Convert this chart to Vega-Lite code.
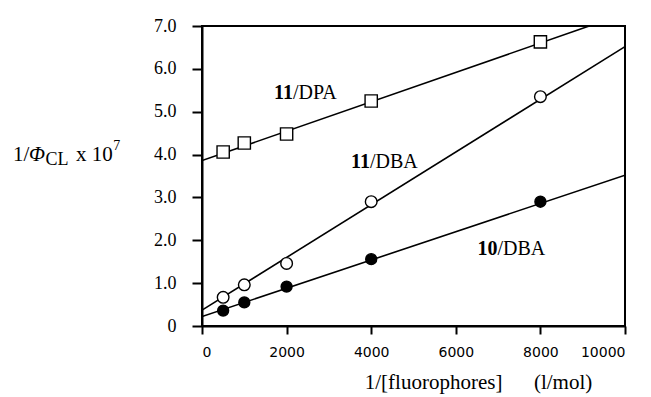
{
  "$schema": "https://vega.github.io/schema/vega-lite/v6.json",
  "autosize": "none",
  "padding": {"left": 202, "top": 26, "right": 26, "bottom": 71},
  "width": 423,
  "height": 300,
  "background": "white",
  "config": {
    "view": {"stroke": "black", "strokeWidth": 2},
    "axis": {"grid": false, "domainColor": "black", "domainWidth": 2, "tickColor": "black", "tickWidth": 2, "labelColor": "black"}
  },
  "datasets": {
    "points": [
      {"series": "11/DPA", "x": 500, "y": 4.06},
      {"series": "11/DPA", "x": 1000, "y": 4.27},
      {"series": "11/DPA", "x": 2000, "y": 4.48},
      {"series": "11/DPA", "x": 4000, "y": 5.25},
      {"series": "11/DPA", "x": 8000, "y": 6.63},
      {"series": "11/DBA", "x": 500, "y": 0.67},
      {"series": "11/DBA", "x": 1000, "y": 0.96},
      {"series": "11/DBA", "x": 2000, "y": 1.46},
      {"series": "11/DBA", "x": 4000, "y": 2.9},
      {"series": "11/DBA", "x": 8000, "y": 5.35},
      {"series": "10/DBA", "x": 500, "y": 0.36},
      {"series": "10/DBA", "x": 1000, "y": 0.55},
      {"series": "10/DBA", "x": 2000, "y": 0.92},
      {"series": "10/DBA", "x": 4000, "y": 1.56},
      {"series": "10/DBA", "x": 8000, "y": 2.9}
    ],
    "fits": [
      {"series": "11/DPA", "x": 0, "y": 3.86},
      {"series": "11/DPA", "x": 10000, "y": 7.29},
      {"series": "11/DBA", "x": 0, "y": 0.37},
      {"series": "11/DBA", "x": 10000, "y": 6.52},
      {"series": "10/DBA", "x": 0, "y": 0.22},
      {"series": "10/DBA", "x": 10000, "y": 3.52}
    ],
    "boldlabels": [
      {"t": "11", "x": 2151, "y": 5.29},
      {"t": "11", "x": 3972, "y": 3.68},
      {"t": "10", "x": 6983, "y": 1.66}
    ],
    "plainlabels": [
      {"t": "/DPA", "x": 2151, "y": 5.29},
      {"t": "/DBA", "x": 3972, "y": 3.68},
      {"t": "/DBA", "x": 6983, "y": 1.66}
    ],
    "ytitle": [
      {"t": "1/", "x": -4468, "y": 3.85},
      {"t": "x 10", "x": -2980, "y": 3.85}
    ],
    "italic": [{"t": "Φ", "x": -4090, "y": 3.85}],
    "sub": [{"t": "CL", "x": -3700, "y": 3.76}],
    "sup": [{"t": "7", "x": -2100, "y": 4.1}]
  },
  "layer": [
    {
      "data": {"name": "fits"},
      "mark": {"type": "line", "color": "black", "strokeWidth": 1.6, "clip": true},
      "encoding": {
        "x": {"field": "x", "type": "quantitative", "scale": {"domain": [0, 10000], "nice": false},
          "axis": {"values": [0, 2000, 4000, 6000, 8000, 10000], "format": "d", "labelFont": "DejaVu Sans", "labelFontSize": 14, "labelPadding": 11, "tickSize": 8,
            "title": "1/[fluorophores]\u00a0\u00a0\u00a0\u00a0\u00a0\u00a0(l/mol)", "titleFont": "Liberation Serif", "titleFontSize": 21, "titleFontWeight": "normal", "titleColor": "black",
            "titleX": 276, "titleY": 62, "titleBaseline": "alphabetic", "titleAlign": "center"}},
        "y": {"field": "y", "type": "quantitative", "scale": {"domain": [0, 7], "nice": false},
          "axis": {"values": [0, 1, 2, 3, 4, 5, 6, 7], "labelExpr": "datum.value == 0 ? '0' : format(datum.value, '.1f')", "labelFont": "Liberation Serif", "labelFontSize": 18, "labelPadding": 16, "tickSize": 10, "title": null}},
        "detail": {"field": "series"}
      }
    },
    {
      "data": {"name": "points"},
      "mark": {"type": "point", "stroke": "black", "strokeWidth": 1.4, "opacity": 1, "filled": false},
      "encoding": {
        "x": {"field": "x", "type": "quantitative"},
        "y": {"field": "y", "type": "quantitative"},
        "shape": {"field": "series", "type": "nominal", "scale": {"domain": ["11/DPA", "11/DBA", "10/DBA"], "range": ["square", "circle", "circle"]}, "legend": null},
        "fill": {"field": "series", "type": "nominal", "scale": {"domain": ["11/DPA", "11/DBA", "10/DBA"], "range": ["white", "white", "black"]}, "legend": null},
        "size": {"field": "series", "type": "nominal", "scale": {"domain": ["11/DPA", "11/DBA", "10/DBA"], "range": [150, 120, 120]}, "legend": null}
      }
    },
    {
      "data": {"name": "boldlabels"},
      "mark": {"type": "text", "font": "Liberation Serif", "fontSize": 20, "fontWeight": "bold", "align": "right", "baseline": "alphabetic", "color": "black"},
      "encoding": {"x": {"field": "x", "type": "quantitative"}, "y": {"field": "y", "type": "quantitative"}, "text": {"field": "t"}}
    },
    {
      "data": {"name": "plainlabels"},
      "mark": {"type": "text", "font": "Liberation Serif", "fontSize": 20, "align": "left", "baseline": "alphabetic", "color": "black"},
      "encoding": {"x": {"field": "x", "type": "quantitative"}, "y": {"field": "y", "type": "quantitative"}, "text": {"field": "t"}}
    },
    {
      "data": {"name": "ytitle"},
      "mark": {"type": "text", "font": "Liberation Serif", "fontSize": 21, "align": "left", "baseline": "alphabetic", "color": "black"},
      "encoding": {"x": {"field": "x", "type": "quantitative"}, "y": {"field": "y", "type": "quantitative"}, "text": {"field": "t"}}
    },
    {
      "data": {"name": "italic"},
      "mark": {"type": "text", "font": "Liberation Serif", "fontSize": 21, "fontStyle": "italic", "align": "left", "baseline": "alphabetic", "color": "black"},
      "encoding": {"x": {"field": "x", "type": "quantitative"}, "y": {"field": "y", "type": "quantitative"}, "text": {"field": "t"}}
    },
    {
      "data": {"name": "sub"},
      "mark": {"type": "text", "font": "Liberation Serif", "fontSize": 18, "align": "left", "baseline": "alphabetic", "color": "black"},
      "encoding": {"x": {"field": "x", "type": "quantitative"}, "y": {"field": "y", "type": "quantitative"}, "text": {"field": "t"}}
    },
    {
      "data": {"name": "sup"},
      "mark": {"type": "text", "font": "Liberation Serif", "fontSize": 14, "align": "left", "baseline": "alphabetic", "color": "black"},
      "encoding": {"x": {"field": "x", "type": "quantitative"}, "y": {"field": "y", "type": "quantitative"}, "text": {"field": "t"}}
    }
  ]
}
